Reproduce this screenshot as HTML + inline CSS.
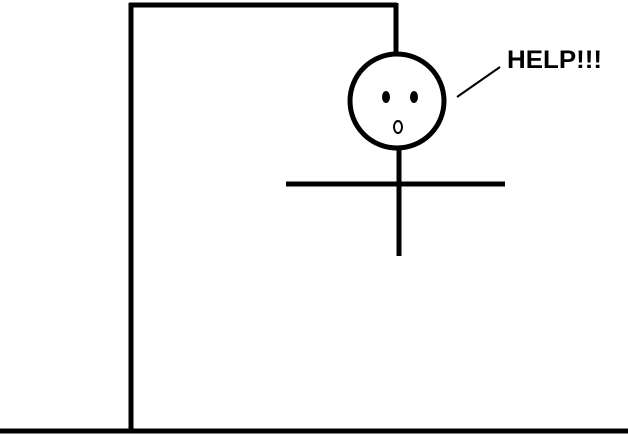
<!DOCTYPE html>
<html><head><style>body{margin:0;background:#fff}svg{display:block}</style></head>
<body>
<svg width="628" height="435" viewBox="0 0 628 435">
<g stroke="#000" fill="none" stroke-width="5">
<line x1="0" y1="431" x2="628" y2="431"/>
<line x1="131" y1="3" x2="131" y2="431"/>
<line x1="129" y1="5" x2="397" y2="5"/>
<line x1="396" y1="3" x2="396" y2="55"/>
<circle cx="397" cy="101" r="47"/>
<line x1="399" y1="148" x2="399" y2="256"/>
<line x1="286" y1="184" x2="505" y2="184"/>
<line x1="457" y1="97" x2="500" y2="67" stroke-width="2"/>
<ellipse cx="398" cy="127" rx="4" ry="6" stroke-width="2"/>
</g>
<ellipse cx="386" cy="97" rx="4" ry="6" fill="#000"/>
<ellipse cx="414" cy="97" rx="4" ry="6" fill="#000"/>
<text x="507" y="68" font-family="Liberation Sans, sans-serif" font-weight="bold" font-size="25" textLength="95" lengthAdjust="spacingAndGlyphs">HELP!!!</text>
</svg>
</body></html>
